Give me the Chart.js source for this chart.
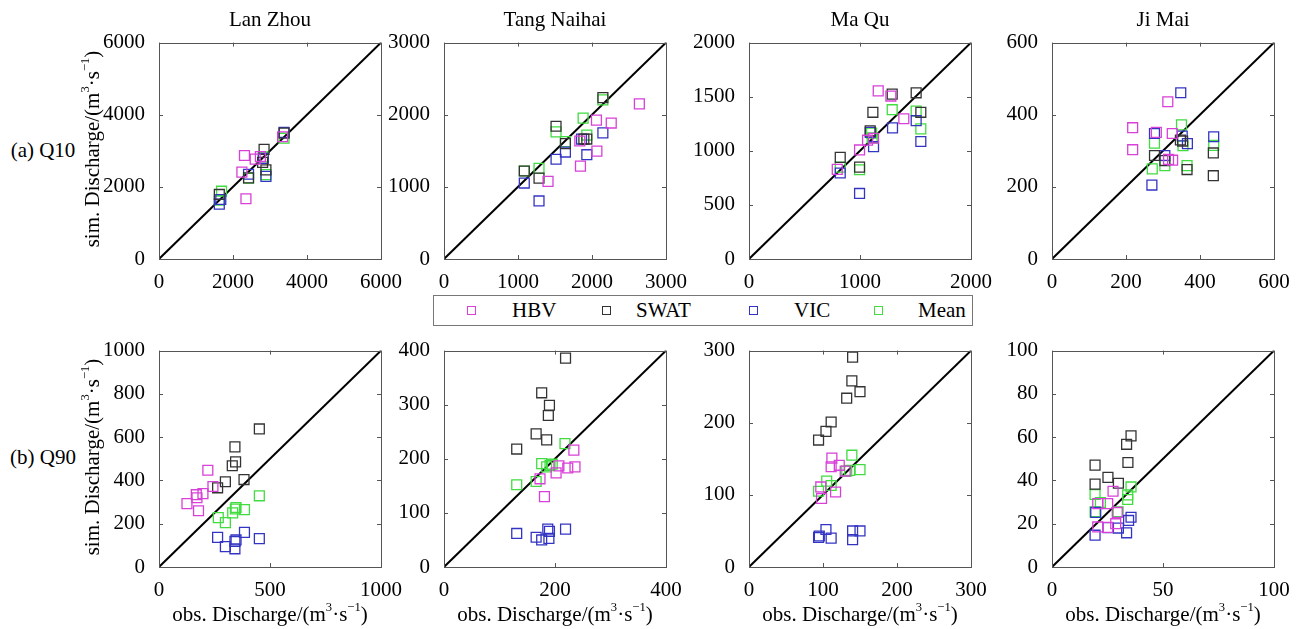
<!DOCTYPE html>
<html>
<head>
<meta charset="utf-8">
<script src="https://cdn.jsdelivr.net/npm/chart.js@4"></script>
<style>
  body { margin: 0; background: #fff; }
  #wrap { position: relative; width: 1297px; height: 629px; font-family: 'Liberation Serif', 'Times New Roman', serif; font-size: 21px; color: #000; }
  #wrap canvas { position: absolute; }
  .lbl { position: absolute; white-space: nowrap; line-height: 1; transform: translate(-50%, -50%); }
  .rot { transform: translate(-50%, -50%) rotate(-90deg); }
  sup { font-size: 0.6em; vertical-align: 0.75em; line-height: 0; }
  #legend { position: absolute; left: 433px; top: 295px; width: 538px; height: 29px; border: 1px solid #777; box-sizing: content-box; }
  .mk { position: absolute; top: 10px; width: 9px; height: 9px; border: 1.3px solid; box-sizing: border-box; }
  .lt { position: absolute; top: 4px; line-height: 1; }
</style>
</head>
<body>
<div id="wrap"></div>
<script>
// models and station names
const models = ['HBV', 'SWAT', 'VIC', 'Mean'];
const stations = ['Lan Zhou', 'Tang Naihai', 'Ma Qu', 'Ji Mai'];
const modelColors = ['#d840d8', '#333333', '#3434c4', '#40dc40'];

// axis ranges / tick steps per station
const q10Max = [6000, 3000, 2000, 600];
const q10Step = [2000, 1000, 500, 200];
const q10XStep = [2000, 1000, 1000, 200];
const q90Max = [1000, 400, 300, 100];
const q90Step = [200, 100, 100, 20];
const q90XStep = [500, 200, 100, 50];

// (a) Q10, [obs, sim]
const lanZhouQ10Hbv = [[2240, 2410], [2310, 2870], [2350, 1670], [2600, 2770], [2740, 2840], [3340, 3390]];
const lanZhouQ10Swat = [[1630, 1790], [2420, 2250], [2800, 2680], [2840, 3040], [2890, 2470], [3380, 3490]];
const lanZhouQ10Vic = [[1630, 1520], [1670, 1650], [2420, 2350], [2820, 2790], [2890, 2290], [3380, 3510]];
const lanZhouQ10Mean = [[1690, 1880], [1630, 1630], [2420, 2240], [2820, 2830], [2890, 2340], [3380, 3350]];

const tangQ10Hbv = [[2640, 2150], [2060, 1925], [2260, 1885], [1835, 1636], [2066, 1496], [1844, 1288], [1406, 1076]];
const tangQ10Swat = [[2147, 2237], [1514, 1840], [1284, 1121], [1085, 1220], [1890, 1663], [1930, 1663], [1641, 1600]];
const tangQ10Vic = [[2147, 1749], [1641, 1483], [1514, 1383], [1930, 1446], [1858, 1663], [1085, 1053], [1284, 805]];
const tangQ10Mean = [[2147, 2206], [1880, 1953], [1514, 1763], [1641, 1627], [1930, 1718], [1284, 1257], [1085, 1220]];

const maQuQ10Hbv = [[1164, 1554], [1278, 1506], [1395, 1296], [1068, 1098], [1122, 1116], [996, 1008], [795, 828]];
const maQuQ10Swat = [[1290, 1524], [1506, 1536], [1116, 1356], [822, 939], [996, 849], [1548, 1356], [1092, 1185]];
const maQuQ10Vic = [[1293, 1212], [1506, 1278], [1548, 1086], [1092, 1170], [1122, 1038], [822, 795], [996, 606]];
const maQuQ10Mean = [[1290, 1380], [1506, 1368], [1548, 1203], [1104, 1164], [1110, 1120], [822, 849], [996, 825]];

const jiMaiQ10Hbv = [[218, 364], [218, 303], [282, 351], [313, 436], [325, 348], [315, 276], [326, 274]];
const jiMaiQ10Swat = [[347, 330], [277, 287], [305, 273], [365, 248], [436, 294], [436, 231], [353, 327]];
const jiMaiQ10Vic = [[348, 461], [277, 348], [352, 341], [366, 320], [437, 339], [305, 287], [270, 205]];
const jiMaiQ10Mean = [[350, 372], [277, 321], [354, 314], [271, 250], [305, 259], [365, 259], [437, 315]];

// (b) Q90, [obs, sim]
const lanZhouQ90Hbv = [[220, 447], [243, 372], [198, 339], [168, 334], [171, 320], [126, 293], [178, 260]];
const lanZhouQ90Swat = [[452, 638], [342, 555], [345, 486], [330, 468], [299, 394], [383, 404], [264, 366]];
const lanZhouQ90Vic = [[264, 137], [299, 94], [342, 118], [347, 125], [342, 84], [385, 160], [452, 131]];
const lanZhouQ90Mean = [[452, 329], [344, 268], [332, 250], [385, 265], [267, 228], [299, 205], [347, 275]];

const tangQ90Hbv = [[234, 216], [236, 185], [223, 183], [207, 187], [202, 174], [173, 163], [181, 130]];
const tangQ90Swat = [[219, 386], [176, 322], [190, 299], [188, 280], [166, 246], [185, 235], [131, 218]];
const tangQ90Vic = [[131, 62], [219, 70], [166, 55], [176, 50], [187, 70], [190, 66], [189, 53]];
const tangQ90Mean = [[218, 228], [176, 191], [191, 188], [185, 185], [131, 152], [166, 158], [195, 190]];

const maQuQ90Hbv = [[112, 151], [111, 139], [122, 141], [130, 133], [97, 111], [98, 95], [117, 104]];
const maQuQ90Swat = [[140, 291], [139, 258], [150, 243], [132, 234], [111, 201], [104, 188], [94, 176]];
const maQuQ90Vic = [[94, 41], [104, 52], [111, 40], [140, 50], [150, 50], [140, 38], [95, 43]];
const maQuQ90Mean = [[139, 155], [150, 135], [136, 134], [105, 119], [111, 113], [94, 105], [132, 133]];

const jiMaiQ90Hbv = [[27.5, 35], [20.6, 29.3], [25.1, 29.3], [29.4, 25.2], [28.7, 20], [25.1, 18.3], [20.6, 18.5]];
const jiMaiQ90Swat = [[35.6, 60.6], [33.6, 56.7], [34.2, 48.3], [19.4, 47.1], [25.2, 41.4], [29.9, 38.7], [19.4, 38.3]];
const jiMaiQ90Vic = [[19.7, 25.2], [35.6, 23], [34.5, 21.5], [25.2, 18.2], [29.9, 18], [33.6, 15.8], [19.4, 14.7]];
const jiMaiQ90Mean = [[35.6, 37], [34.1, 33.3], [34.1, 31.2], [19.4, 33.5], [19.4, 25.5], [29.8, 25.5], [21.8, 29.8]];

const q10Series = [
  [lanZhouQ10Hbv, lanZhouQ10Swat, lanZhouQ10Vic, lanZhouQ10Mean],
  [tangQ10Hbv, tangQ10Swat, tangQ10Vic, tangQ10Mean],
  [maQuQ10Hbv, maQuQ10Swat, maQuQ10Vic, maQuQ10Mean],
  [jiMaiQ10Hbv, jiMaiQ10Swat, jiMaiQ10Vic, jiMaiQ10Mean]
];
const q90Series = [
  [lanZhouQ90Hbv, lanZhouQ90Swat, lanZhouQ90Vic, lanZhouQ90Mean],
  [tangQ90Hbv, tangQ90Swat, tangQ90Vic, tangQ90Mean],
  [maQuQ90Hbv, maQuQ90Swat, maQuQ90Vic, maQuQ90Mean],
  [jiMaiQ90Hbv, jiMaiQ90Swat, jiMaiQ90Vic, jiMaiQ90Mean]
];

// layout (px)
const colLeft = [159, 444, 749, 1052];
const rowTop = [38, 346];
const plotW = 222, plotH = 221;
const yAxW = 64, xAxH = 36, padTop = 14, padRight = 30;
const serif = "'Liberation Serif', 'Times New Roman', serif";
const tickFont = { family: serif, size: 21 };

Chart.defaults.font.family = serif;
Chart.defaults.font.size = 21;
Chart.defaults.color = '#000';

const wrap = document.getElementById('wrap');

// inward tick marks + frame, matlab style
const framePlugin = {
  id: 'frame',
  afterDatasetsDraw(chart) {
    const { ctx, chartArea: a, scales } = chart;
    ctx.save();
    ctx.strokeStyle = '#555';
    ctx.lineWidth = 1;
    ctx.beginPath();
    scales.x.ticks.forEach(t => {
      const px = Math.round(scales.x.getPixelForValue(t.value)) + 0.5;
      ctx.moveTo(px, a.bottom); ctx.lineTo(px, a.bottom - 4);
      ctx.moveTo(px, a.top); ctx.lineTo(px, a.top + 4);
    });
    scales.y.ticks.forEach(t => {
      const py = Math.round(scales.y.getPixelForValue(t.value)) + 0.5;
      ctx.moveTo(a.left, py); ctx.lineTo(a.left + 4, py);
      ctx.moveTo(a.right, py); ctx.lineTo(a.right - 4, py);
    });
    ctx.stroke();
    ctx.strokeRect(Math.round(a.left) + 0.5, Math.round(a.top) + 0.5, Math.round(a.width), Math.round(a.height));
    ctx.restore();
  }
};

function makePanel(row, col, max, yStep, xStep, series) {
  const cv = document.createElement('canvas');
  cv.width = yAxW + plotW + padRight;
  cv.height = padTop + plotH + xAxH;
  cv.style.left = (colLeft[col] - yAxW) + 'px';
  cv.style.top = (rowTop[row] - padTop) + 'px';
  wrap.appendChild(cv);

  const datasets = series.map((s, i) => ({
    type: 'scatter',
    label: models[i],
    data: s.map(p => ({ x: p[0], y: p[1] })),
    pointStyle: 'rect',
    pointRadius: 7,
    borderWidth: 1.3,
    borderColor: modelColors[i],
    backgroundColor: 'transparent'
  }));
  datasets.push({
    type: 'line',
    label: '1:1',
    data: [{ x: 0, y: 0 }, { x: max, y: max }],
    borderColor: '#000',
    borderWidth: 2,
    pointRadius: 0
  });

  new Chart(cv, {
    type: 'scatter',
    data: { datasets },
    options: {
      responsive: false,
      animation: false,
      devicePixelRatio: 1,
      layout: { padding: { top: padTop, right: padRight, left: 0, bottom: 0 } },
      plugins: { legend: { display: false }, tooltip: { enabled: false } },
      scales: {
        x: {
          type: 'linear', min: 0, max: max,
          grid: { display: false }, border: { display: false },
          ticks: { stepSize: xStep, autoSkip: false, maxRotation: 0, padding: 3, font: tickFont, color: '#000', callback: v => String(v) },
          afterFit: s => { s.height = xAxH; }
        },
        y: {
          type: 'linear', min: 0, max: max,
          grid: { display: false }, border: { display: false },
          ticks: { stepSize: yStep, autoSkip: false, padding: 6, font: tickFont, color: '#000', callback: v => String(v) },
          afterFit: s => { s.width = yAxW; }
        }
      }
    },
    plugins: [framePlugin]
  });
}

for (let c = 0; c < 4; c++) {
  makePanel(0, c, q10Max[c], q10Step[c], q10XStep[c], q10Series[c]);
  makePanel(1, c, q90Max[c], q90Step[c], q90XStep[c], q90Series[c]);
}

// text labels
function addLabel(html, x, y, cls) {
  const d = document.createElement('div');
  d.className = 'lbl' + (cls ? ' ' + cls : '');
  d.innerHTML = html;
  d.style.left = x + 'px';
  d.style.top = y + 'px';
  wrap.appendChild(d);
}
const unit = '(m<sup>3</sup>·s<sup>−1</sup>)';
stations.forEach((s, c) => {
  addLabel(s, colLeft[c] + plotW / 2, 19);
  addLabel('obs. Discharge/' + unit, colLeft[c] + plotW / 2, 614);
});
addLabel('(a) Q10', 43, 150);
addLabel('(b) Q90', 43, 457);
addLabel('sim. Discharge/' + unit, 92, 149, 'rot');
addLabel('sim. Discharge/' + unit, 92, 457, 'rot');

// legend
const legend = document.createElement('div');
legend.id = 'legend';
const mkX = [33, 168, 315, 440];
const txX = [78, 202, 360, 484];
models.forEach((m, i) => {
  const mk = document.createElement('div');
  mk.className = 'mk';
  mk.style.left = mkX[i] + 'px';
  mk.style.borderColor = modelColors[i];
  legend.appendChild(mk);
  const t = document.createElement('div');
  t.className = 'lt';
  t.textContent = m;
  t.style.left = txX[i] + 'px';
  legend.appendChild(t);
});
wrap.appendChild(legend);
</script>
</body>
</html>
